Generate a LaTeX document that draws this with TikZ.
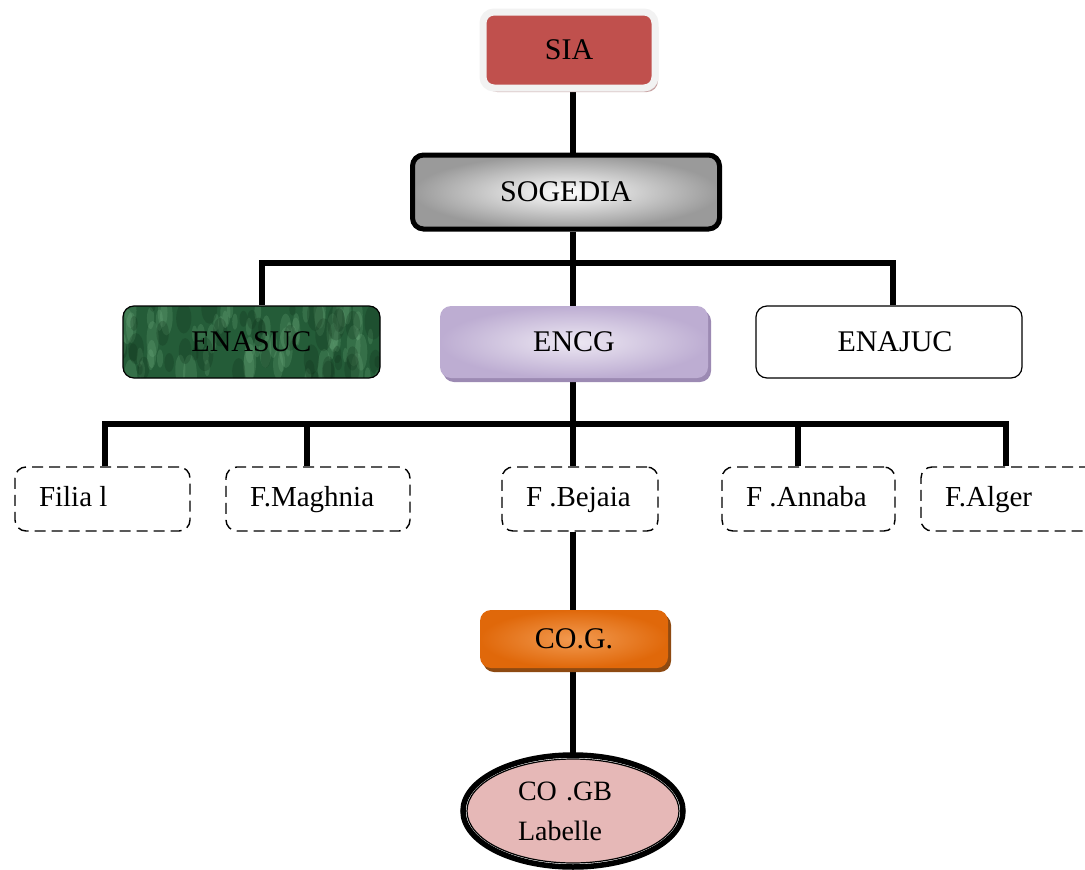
\documentclass[tikz,border=0pt]{standalone}
\usepackage{fontspec}
\setmainfont{Liberation Serif}
\usetikzlibrary{shapes.geometric,shadows,backgrounds}
\definecolor{siared}{HTML}{C0504D}
\definecolor{siaframe}{HTML}{F2F2F2}
\definecolor{siashadow}{HTML}{C9A6A6}
\definecolor{sogout}{HTML}{9A9A9A}
\definecolor{grbase}{HTML}{245C38}
\definecolor{grlight}{HTML}{7DBB8C}
\definecolor{grdark}{HTML}{0F3019}
\definecolor{lavin}{HTML}{EDE8F3}
\definecolor{lavout}{HTML}{BDADD2}
\definecolor{lavshadow}{HTML}{9C8AB3}
\definecolor{orin}{HTML}{F29A50}
\definecolor{orout}{HTML}{E0680A}
\definecolor{orshadow}{HTML}{8E4A12}
\definecolor{pinkfill}{HTML}{E6B8B7}
\newcommand{\lefttext}[2]{\makebox[#1][l]{#2}}
\begin{document}
\begin{tikzpicture}[x=1pt,y=-1pt,
  every node/.style={font=\fontsize{30}{36}\selectfont, text=black},
  conn/.style={line width=5.5pt, black},
  box/.style={rectangle, rounded corners=11pt, inner sep=0pt},
  fbox/.style={box, draw=black, line width=1.4pt, dash pattern=on 11pt off 6pt,
     minimum height=64pt, text height=20pt, text depth=6pt, font=\fontsize{29}{34}\selectfont},
]
\useasboundingbox (0,0) rectangle (1085,870);
\clip (0,0) rectangle (1085,870);

% top nodes
\node[box, fill=siared, draw=siaframe, line width=7pt, minimum width=172pt, minimum height=76pt,
  drop shadow={shadow xshift=3pt, shadow yshift=-4pt, fill=siashadow, opacity=1}] (sia) at (569,50) {SIA};
\node[box, draw=black, line width=5pt, inner color=white, outer color=sogout,
  minimum width=307pt, minimum height=74pt] (sogedia) at (566,192) {SOGEDIA};

% second level
\node[box, draw=black, line width=1.2pt, fill=grbase, minimum width=257pt, minimum height=72pt,
  path picture={
    \pgfmathsetseed{11}
    \foreach \k in {1,...,70}{
      \pgfmathsetmacro\dx{130*rand}
      \pgfmathsetmacro\dy{38*rand}
      \pgfmathsetmacro\r{2+5*rnd}
      \fill[grlight, opacity=0.2] ([shift={(\dx pt,\dy pt)}]path picture bounding box.center) ellipse (\r pt and 3*\r pt);
    }
    \foreach \k in {1,...,40}{
      \pgfmathsetmacro\dx{130*rand}
      \pgfmathsetmacro\dy{38*rand}
      \pgfmathsetmacro\r{3+6*rnd}
      \fill[grdark, opacity=0.25] ([shift={(\dx pt,\dy pt)}]path picture bounding box.center) ellipse (\r pt and 2*\r pt);
    }
  }] (enasuc) at (251.5,342) {ENASUC};
\node[box, inner color=lavin, outer color=lavout, minimum width=268pt, minimum height=72pt,
  drop shadow={shadow xshift=3pt, shadow yshift=-4pt, fill=lavshadow, opacity=1}] (encg) at (574,342) {ENCG};
\node[box, draw=black, line width=1.2pt, fill=white, minimum width=266pt, minimum height=72pt] (enajuc) at (889,342) {\hspace{12pt}ENAJUC};

% third level
\node[fbox, minimum width=175pt] (filial) at (102.5,499) {\lefttext{127pt}{Filia l}};
\node[fbox, minimum width=184pt] (fmaghnia) at (318,499) {\lefttext{136pt}{F.Maghnia}};
\node[fbox, minimum width=156pt] (fbejaia) at (580,499) {\lefttext{108pt}{F .Bejaia}};
\node[fbox, minimum width=173pt] (fannaba) at (808.5,499) {\lefttext{125pt}{F .Annaba}};
\node[fbox, minimum width=180pt] (falger) at (1011,499) {\lefttext{132pt}{F.Alger}};

% lower
\node[box, inner color=orin, outer color=orout, minimum width=188pt, minimum height=58pt,
  drop shadow={shadow xshift=3pt, shadow yshift=-4pt, fill=orshadow, opacity=1}] (cog) at (574,639) {CO.G.};
\node[ellipse, fill=pinkfill, draw=black, line width=1.2pt, minimum width=212pt, minimum height=104pt,
  text width=110pt, align=left, inner sep=0pt, font=\fontsize{28}{40}\selectfont] (cogb) at (573,811) {CO .GB\\Labelle};
\draw[line width=5.5pt] (cogb.center) ellipse [x radius=110, y radius=56];

% junction coordinates
\coordinate (j1) at (573,263);
\coordinate (hl) at (262,263);
\coordinate (hr) at (893,263);
\coordinate (j2) at (573,424);
\coordinate (la) at (105,424);
\coordinate (lb) at (307,424);
\coordinate (ld) at (798,424);
\coordinate (le) at (1006,424);

\begin{scope}[on background layer]
\draw[conn] (sia.south -| j1) -- (sogedia.north -| j1);
\draw[conn] (sogedia.south -| j1) -- (encg.north -| j1);
\draw[conn] (enasuc.north -| hl) -- (hl) -- (hr) -- (enajuc.north -| hr);
\draw[conn] (encg.south -| j2) -- (fbejaia.north -| j2);
\draw[conn] (filial.north -| la) -- (la) -- (le) -- (falger.north -| le);
\draw[conn] (lb) -- (fmaghnia.north -| lb);
\draw[conn] (ld) -- (fannaba.north -| ld);
\draw[conn] (fbejaia.south -| j2) -- (cog.north -| j2);
\draw[conn] (cog.south -| j2) -- (cogb.north -| j2);
\end{scope}
\end{tikzpicture}
\end{document}
